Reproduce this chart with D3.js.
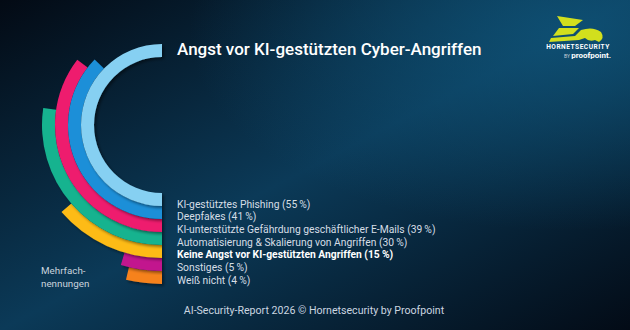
<!DOCTYPE html>
<html>
<head>
<meta charset="utf-8">
<script src="https://cdn.jsdelivr.net/npm/d3@7"></script>
<style>
  html, body { margin: 0; padding: 0; background: #04101d; }
  svg { display: block; font-family: Roboto, "Noto Sans", sans-serif; }
</style>
</head>
<body>
<div id="chart"></div>
<script>
// Radial bar chart - Angst vor KI-gestützten Cyber-Angriffen

const categories = [
  "KI-gestütztes Phishing",
  "Deepfakes",
  "KI-unterstützte Gefährdung geschäftlicher E-Mails",
  "Automatisierung & Skalierung von Angriffen",
  "Keine Angst vor KI-gestützten Angriffen",
  "Sonstiges",
  "Weiß nicht"
];
const values = [55, 41, 39, 30, 15, 5, 4];
const colors = ["#86d0f2", "#1b8fd8", "#ee1a6e", "#15b38f", "#fdbb17", "#c2178e", "#f6821f"];
const boldRow = "Keine Angst vor KI-gestützten Angriffen";

const width = 630, height = 330;
const cx = 162, cy = 125;

const svg = d3.select("#chart").append("svg")
  .attr("width", width)
  .attr("height", height);

const defs = svg.append("defs");

// background
const bg = defs.append("linearGradient")
  .attr("id", "bg")
  .attr("x1", 0).attr("y1", 0).attr("x2", 1).attr("y2", 1);
bg.append("stop").attr("offset", "0%").attr("stop-color", "#030a14");
bg.append("stop").attr("offset", "50%").attr("stop-color", "#0b3a58");
bg.append("stop").attr("offset", "100%").attr("stop-color", "#030b16");

const glow = defs.append("radialGradient")
  .attr("id", "glow")
  .attr("cx", 0.9).attr("cy", 0.1).attr("r", 0.6);
glow.append("stop").attr("offset", "0%").attr("stop-color", "#0f5479").attr("stop-opacity", 0.8);
glow.append("stop").attr("offset", "100%").attr("stop-color", "#0f5479").attr("stop-opacity", 0);

const shadow = defs.append("filter")
  .attr("id", "shadow")
  .attr("x", "-20%").attr("y", "-20%").attr("width", "140%").attr("height", "140%");
shadow.append("feDropShadow")
  .attr("dx", 2).attr("dy", 2)
  .attr("stdDeviation", 1.5)
  .attr("flood-color", "#000")
  .attr("flood-opacity", 0.45);

svg.append("rect").attr("width", width).attr("height", height).attr("fill", "url(#bg)");
svg.append("rect").attr("width", width).attr("height", height).attr("fill", "url(#glow)");

// Scales
const angle = d3.scaleLinear().domain([0, 55]).range([Math.PI, 2 * Math.PI]);
const radius = d3.scaleBand().domain(categories).range([68, 159]).padding(0);
const color = d3.scaleOrdinal().domain(categories).range(colors);

const arc = d3.arc()
  .innerRadius(d => radius(d.cat))
  .outerRadius(d => radius(d.cat) + radius.bandwidth())
  .startAngle(Math.PI)
  .endAngle(d => angle(d.value));

const data = categories.map((c, i) => ({ cat: c, value: values[i] }));

const g = svg.append("g").attr("transform", "translate(" + cx + "," + cy + ")");

// draw outer bars first so inner ones sit on top
g.selectAll("path.bar")
  .data(data.slice().reverse())
  .enter()
  .append("path")
  .attr("class", "bar")
  .attr("d", arc)
  .attr("fill", d => color(d.cat))
  .attr("filter", "url(#shadow)");

// Title
svg.append("text")
  .attr("x", 177)
  .attr("y", 55)
  .attr("fill", "#ffffff")
  .attr("font-size", "17px")
  .attr("font-weight", 500)
  .text("Angst vor KI-gestützten Cyber-Angriffen");

// Legend
const rowY = d3.scaleBand().domain(categories).range([197.6, 286.5]);

svg.append("g")
  .selectAll("text")
  .data(data)
  .enter()
  .append("text")
  .attr("x", 177)
  .attr("y", d => rowY(d.cat) + rowY.bandwidth() / 2)
  .attr("dy", "0.35em")
  .attr("fill", d => d.cat === boldRow ? "#ffffff" : "#d6dee6")
  .attr("font-size", "10.3px")
  .attr("font-weight", d => d.cat === boldRow ? 700 : 400)
  .text(d => d.cat + " (" + d.value + "\u2009%)");

// Note
const note = svg.append("text")
  .attr("x", 41)
  .attr("fill", "#c9d3dd")
  .attr("font-size", "9.8px");
note.append("tspan").attr("x", 41).attr("y", 274).text("Mehrfach-");
note.append("tspan").attr("x", 41).attr("y", 287).text("nennungen");

// Footer
svg.append("text")
  .attr("x", 314)
  .attr("y", 314)
  .attr("text-anchor", "middle")
  .attr("fill", "#cbd6e0")
  .attr("font-size", "10.6px")
  .text("AI-Security-Report 2026 \u00A9 Hornetsecurity by Proofpoint");

// Logo
const logo = svg.append("g").attr("transform", "translate(545,14)");
logo.append("path")
  .attr("d", "M12,2 L38,6 L30,12 L18,12 Z M14,14 L34,14 L28,20 L8,22 Z M6,24 L30,22 L36,16 Q48,12 56,18 Q60,24 54,28 L50,26 Q44,28 40,24 L34,26 L4,28 Z")
  .attr("fill", "#d2df1d");
logo.append("text")
  .attr("x", 33).attr("y", 35)
  .attr("text-anchor", "middle")
  .attr("fill", "#ffffff")
  .attr("font-size", "6.6px")
  .attr("font-weight", 700)
  .attr("letter-spacing", "0.5px")
  .text("HORNETSECURITY");
const by = logo.append("text")
  .attr("x", 66).attr("y", 44)
  .attr("text-anchor", "end")
  .attr("fill", "#ffffff");
by.append("tspan").attr("font-size", "5px").attr("fill", "#c9d3dd").text("BY ");
by.append("tspan").attr("font-size", "8px").attr("font-weight", 700).text("proofpoint.");
</script>
</body>
</html>
